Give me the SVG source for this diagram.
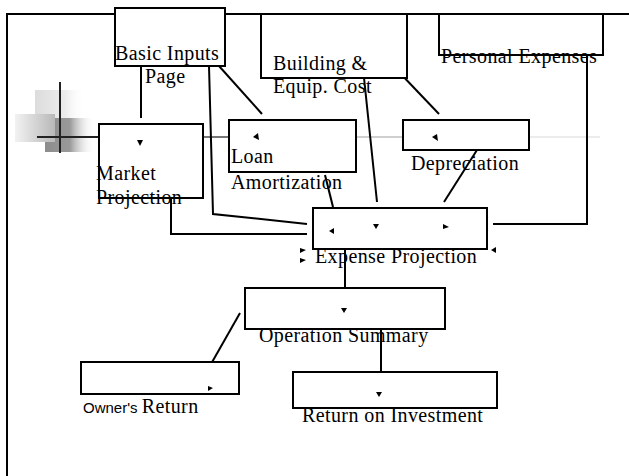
<svg xmlns="http://www.w3.org/2000/svg" width="629" height="476" viewBox="0 0 629 476">
<defs>
<style>
.box{fill:#fff;stroke:#000;stroke-width:2}
.ln{fill:none;stroke:#000;stroke-width:2}
.t{font-family:"Liberation Serif","Times New Roman",serif;font-size:20px;letter-spacing:0.4px;fill:#000}
.s{font-family:"Liberation Sans",Arial,sans-serif;font-size:15px;fill:#000}
.tri{fill:#000}
</style>
<linearGradient id="g1" x1="0" x2="1" y1="0" y2="0">
<stop offset="0" stop-color="#dcdcdc"/><stop offset="0.6" stop-color="#ececec"/><stop offset="1" stop-color="#fff" stop-opacity="0"/>
</linearGradient>
<linearGradient id="g2" x1="0" x2="1" y1="0" y2="0">
<stop offset="0" stop-color="#f2f2f2"/><stop offset="1" stop-color="#b8b8b8"/>
</linearGradient>
<linearGradient id="g3" x1="0" x2="1" y1="0" y2="0">
<stop offset="0" stop-color="#8c8c8c"/><stop offset="0.5" stop-color="#9a9a9a"/><stop offset="1" stop-color="#fff" stop-opacity="0"/>
</linearGradient>
</defs>
<rect x="7" y="14" width="700" height="500" fill="#fff" stroke="#000" stroke-width="2"/>
<g id="decoration">
<rect x="35" y="90" width="50" height="28" fill="url(#g1)"/>
<rect x="45" y="118" width="50" height="34" fill="url(#g3)"/>
<rect x="15" y="114" width="40" height="28" fill="url(#g2)"/>
<line x1="60" y1="82" x2="60" y2="153" stroke="#222" stroke-width="2"/>
<line x1="37" y1="137" x2="99" y2="137" stroke="#222" stroke-width="2"/>
<line x1="203" y1="137" x2="229" y2="137" stroke="#777" stroke-width="2"/>
<line x1="356" y1="137" x2="403" y2="137" stroke="#cfcfcf" stroke-width="2"/>
<line x1="529" y1="137" x2="600" y2="137" stroke="#ececec" stroke-width="2"/>
</g>
<g id="connectors">
<line class="ln" x1="141" y1="66" x2="141" y2="118"/>
<line class="ln" x1="219" y1="66" x2="262" y2="114"/>
<polyline class="ln" points="209,66 213,214 307,224"/>
<polyline class="ln" points="171,198 171,234 307,234"/>
<line class="ln" x1="361" y1="49" x2="377" y2="202"/>
<line class="ln" x1="377" y1="49" x2="439" y2="114"/>
<line class="ln" x1="477" y1="150" x2="444" y2="202"/>
<line class="ln" x1="325" y1="175" x2="333" y2="207"/>
<polyline class="ln" points="587,55 587,224 493,224"/>
<line class="ln" x1="345" y1="249" x2="345" y2="288"/>
<line class="ln" x1="240" y1="313" x2="211" y2="364"/>
<line class="ln" x1="381" y1="329" x2="381" y2="372"/>
<polygon class="tri" points="300,248 306,250 300,253"/>
<polygon class="tri" points="300,258 306,260 300,263"/>
<polygon class="tri" points="491,250 496,247 496,253"/>
</g>
<g id="basic-inputs">
<rect class="box" x="115" y="8" width="110" height="58"/>
<text class="t" x="115" y="60">Basic Inputs</text>
<text class="t" x="145" y="83">Page</text>
</g>
<g id="building">
<rect class="box" x="261" y="14" width="146" height="64"/>
<text class="t" x="273" y="70">Building &amp;</text>
<text class="t" x="273" y="93">Equip. Cost</text>
</g>
<g id="personal-expenses">
<rect class="box" x="439" y="14" width="164" height="41"/>
<text class="t" x="441" y="63">Personal Expenses</text>
</g>
<g id="market-projection">
<rect class="box" x="99" y="124" width="104" height="74"/>
<polygon class="tri" points="137,140 143,140 140,146"/>
<text class="t" x="96" y="180">Market</text>
<text class="t" x="96" y="204">Projection</text>
</g>
<g id="loan-amortization">
<rect class="box" x="229" y="120" width="127" height="52"/>
<polygon class="tri" points="253,137 258,133 259,140"/>
<text class="t" x="231" y="163">Loan</text>
<text class="t" x="231" y="189">Amortization</text>
</g>
<g id="depreciation">
<rect class="box" x="403" y="120" width="126" height="30"/>
<polygon class="tri" points="432,137 437,134 438,141"/>
<text class="t" x="411" y="170">Depreciation</text>
</g>
<g id="expense-projection">
<rect class="box" x="313" y="208" width="174" height="41"/>
<polygon class="tri" points="329,231 334,228 334,234"/>
<polygon class="tri" points="373,224 379,224 376,229"/>
<polygon class="tri" points="443,224 449,227 443,229"/>
<text class="t" x="315" y="263">Expense Projection</text>
</g>
<g id="operation-summary">
<rect class="box" x="245" y="288" width="200" height="41"/>
<polygon class="tri" points="341,308 347,308 344,313"/>
<text class="t" x="259" y="342">Operation Summary</text>
</g>
<g id="owners-return">
<rect class="box" x="81" y="362" width="158" height="32"/>
<polygon class="tri" points="208,386 213,388 208,391"/>
<text x="83" y="413"><tspan class="s">Owner's </tspan><tspan class="t">Return</tspan></text>
</g>
<g id="return-on-investment">
<rect class="box" x="293" y="372" width="204" height="36"/>
<polygon class="tri" points="376,392 382,392 379,397"/>
<text class="t" x="302" y="422">Return on Investment</text>
</g>
</svg>
